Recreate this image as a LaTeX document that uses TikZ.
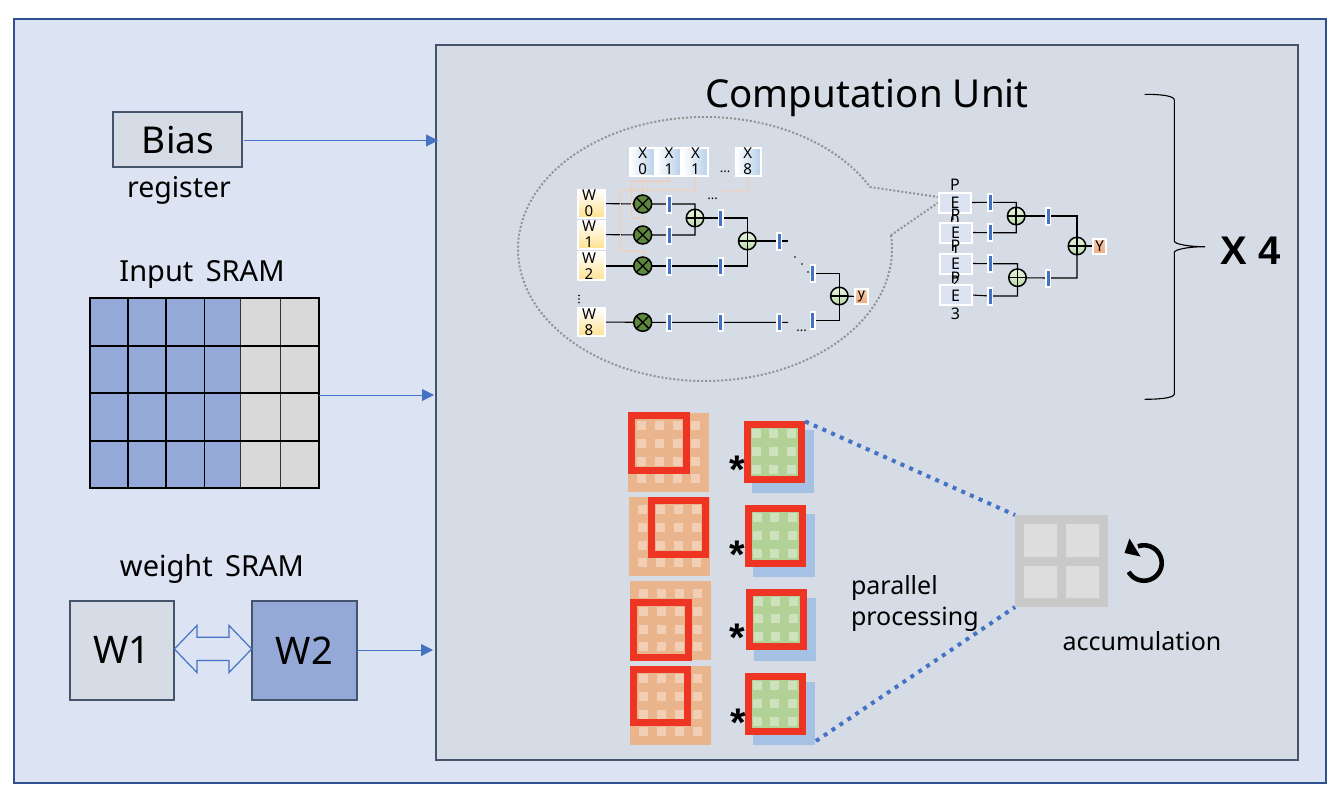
\documentclass[tikz,border=0pt]{standalone}
\usepackage{fontspec}
\setmainfont{Noto Sans}
\newfontfamily\boldarial[BoldFont=Liberation Sans Bold]{Liberation Sans}
\usetikzlibrary{arrows.meta}
\pgfdeclarelayer{back}
\pgfdeclarelayer{wires}
\pgfsetlayers{back,wires,main}
\definecolor{outerfill}{HTML}{DCE3F3}
\definecolor{outerline}{HTML}{2F528F}
\definecolor{panel}{HTML}{D6DCE5}
\definecolor{slate}{HTML}{44546A}
\definecolor{mainblue}{HTML}{4472C4}
\definecolor{cellblue}{HTML}{94A9D8}
\definecolor{cellgray}{HTML}{D9D9D9}
\definecolor{wireorange}{HTML}{F8CBAD}
\definecolor{tileorange}{HTML}{EAB48C}
\definecolor{tilelight}{HTML}{F2CEB4}
\definecolor{tilegreen}{HTML}{B2D197}
\definecolor{greenlight}{HTML}{CEE2BD}
\definecolor{tileblue}{HTML}{A5C2E4}
\definecolor{framered}{HTML}{EE3524}
\newcommand{\fsz}[2]{\fontsize{#1}{#2}\selectfont}
\tikzset{
  x=1pt,y=-1pt,
  txt/.style={inner sep=0pt,outer sep=0pt,text=black},
  flow/.style={draw=mainblue,line width=1pt,-{Triangle[length=12pt,width=12pt]}},
  wire/.style={draw=black,line width=1.1pt},
  feed/.style={draw=wireorange,line width=1pt},
  regbox/.style={draw=none,fill=white,minimum width=6pt,minimum height=19pt,inner sep=0pt,outer sep=0pt,
    path picture={\fill[mainblue] ([xshift=-1.5pt]path picture bounding box.south) rectangle ([xshift=1.5pt]path picture bounding box.north);\fill[white] (path picture bounding box.south west) rectangle ([yshift=2pt]path picture bounding box.south east);\fill[white] (path picture bounding box.north west) rectangle ([yshift=-2pt]path picture bounding box.north east);}},
  mult/.style={circle,draw=black,line width=1.5pt,fill={rgb,255:red,92;green,135;blue,60},minimum size=18pt,inner sep=0pt,outer sep=0pt,
    path picture={\draw[black,line width=1.3pt] (path picture bounding box.north west) -- (path picture bounding box.south east) (path picture bounding box.north east) -- (path picture bounding box.south west);}},
  addn/.style={circle,draw=black,line width=1.5pt,top color={rgb,255:red,232;green,242;blue,224},bottom color={rgb,255:red,190;green,218;blue,170},minimum size=17.5pt,inner sep=0pt,outer sep=0pt,
    path picture={\draw[black,line width=1.5pt] (path picture bounding box.north) -- (path picture bounding box.south) (path picture bounding box.east) -- (path picture bounding box.west);}},
  xbox/.style={draw=white,line width=2pt,left color=white,right color={rgb,255:red,183;green,208;blue,233},minimum width=25pt,minimum height=28pt,inner sep=0pt,outer sep=0pt},
  wbox/.style={draw=white,line width=2pt,top color=white,bottom color={rgb,255:red,255;green,226;blue,145},minimum width=27pt,minimum height=28pt,inner sep=0pt,outer sep=0pt},
  pebox/.style={draw=white,line width=2pt,fill=outerfill,minimum width=32pt,minimum height=20pt,inner sep=0pt,outer sep=0pt},
  ybox/.style={draw=white,line width=2pt,top color={rgb,255:red,248;green,210;blue,180},bottom color={rgb,255:red,238;green,170;blue,125},minimum width=13pt,minimum height=15pt,inner sep=0pt,outer sep=0pt},
  stack/.style={txt,align=center,font=\fsz{15}{16}},
  pestack/.style={txt,align=center,font=\fsz{16}{18}},
  redframe/.style={draw=framered,line width=7pt,minimum size=54.5pt,inner sep=0pt,outer sep=3.5pt},
  dotlink/.style={draw=mainblue,line width=4pt,dash pattern=on 4pt off 5.5pt},
  star/.style={txt,font=\boldarial\bfseries\fsz{40}{44}},
}
\newcommand{\orangetile}[3]{% corner x, y, name
  \node[draw=none,fill=tileorange,minimum width=80.5pt,minimum height=79pt,inner sep=0pt,anchor=north west] (#3) at (#1,#2) {};
  \foreach \i in {13.3,31.3,49.3,67.3}\foreach \j in {12.7,30.3,48,65.3}
    \fill[tilelight] (#1+\i-4.5,#2+\j-4.5) rectangle +(9,9);
}
\newcommand{\greentile}[3]{% corner x, y, name
  \node[fill=tileblue,minimum width=62pt,minimum height=63pt,inner sep=0pt,anchor=north west] (#3b) at (#1+8.3,#2+8.5) {};
  \fill[tilegreen] (#1,#2) rectangle +(61.3,61);
  \foreach \i in {12.6,30,47.6}\foreach \j in {12,29.6,47.6}
    \fill[greenlight] (#1+\i-4.5,#2+\j-4.5) rectangle +(9,9);
  \node[redframe,anchor=center] (#3) at (#1+30.7,#2+30.5) {};
}
\begin{document}
\begin{tikzpicture}
\useasboundingbox (0,0) rectangle (1344,806);
\begin{pgfonlayer}{back}
  \fill[white] (0,0) rectangle (1344,806);
  \draw[draw=outerline,fill=outerfill,line width=2pt] (14,19) rectangle (1326,783);
  \draw[draw=slate,fill=panel,line width=2pt] (436,45) rectangle (1298,760);
  % callout
  \draw[draw=gray!85,line width=2pt,dash pattern=on 2pt off 2pt]
    plot[domain=-6:332,samples=160,smooth] ({705+187*cos(\x)},{249+132*sin(\x)}) -- (945,198) -- cycle;
\end{pgfonlayer}

% left side
\node[draw=slate,fill=panel,line width=2pt,minimum width=129pt,minimum height=55pt,inner sep=0pt,outer sep=0pt] (bias) at (177.3,139.5) {};
\node[txt,font=\fsz{37}{40}] (biast) at (178,140) {Bias};
\node[txt,font=\fsz{28.5}{32}] (regt) at (179,190) {register};
\node[txt,font=\fsz{29}{34}] (inpt) at (202,274) {Input\, SRAM};
\coordinate (bias in) at (438,140.5);
\coordinate (sram in) at (434,395);
\coordinate (wt in) at (433,650);
\node[minimum width=229pt,minimum height=190pt,inner sep=0pt,outer sep=0pt,anchor=north west] (sram) at (90,298) {};
\fill[cellblue] (90,298) rectangle (240.3,488);
\fill[cellgray] (240.3,298) rectangle (319,488);
\draw[black,line width=1.6pt] (128,298) -- (128,488) (166,298) -- (166,488) (204.3,298) -- (204.3,488);
\draw[black!80,line width=1pt] (240.3,298) -- (240.3,488) (280.3,298) -- (280.3,488);
\draw[black,line width=1.6pt] (90,345.7) -- (319,345.7) (90,392.7) -- (319,392.7) (90,440.7) -- (319,440.7);
\draw[black,line width=2pt] (90,298) rectangle (319,488);
\draw[flow] (244,140.5) -- (bias in);
\draw[flow] (sram.east |- sram in) -- (sram in);
\node[txt,font=\fsz{29}{34}] (wgt) at (212,569) {weight\, SRAM};
\node[draw=slate,fill=panel,line width=2pt,minimum width=104.6pt,minimum height=99.3pt,inner sep=0pt,outer sep=0pt,anchor=north west,font=\fsz{38}{42}] (w1) at (69.7,600.7) {W1};
\node[draw=slate,fill=cellblue,line width=2pt,minimum width=105.3pt,minimum height=99.3pt,inner sep=0pt,outer sep=0pt,anchor=north west,font=\fsz{38}{42}] (w2) at (251.7,600.7) {W2};
\draw[draw=mainblue,fill=outerfill,line width=1.2pt,line join=miter]
  (w1.east |- 0,649) -- (197,625.5) -- (197,637.3) -- (229,637.3) -- (229,625.5) -- (w2.west |- 0,649) -- (229,672.5) -- (229,660.5) -- (197,660.5) -- (197,672.5) -- cycle;
\draw[flow] (w2.east |- wt in) -- (wt in);

% title
\node[txt,font=\fsz{38.5}{46}] (title) at (867,98) {Computation Unit};

% detail circuit nodes
\foreach \n/\cx/\d in {xa/642.5/0,xb/668.5/1,xc/695.5/1,xd/748/8}
  \node[xbox] (\n) at (\cx,161.5) {};
\node[stack] (xat) at (642.7,161) {X\\0};
\node[stack] (xbt) at (669,161) {X\\1};
\node[stack] (xct) at (695.5,161) {X\\1};
\node[stack] (xdt) at (747.7,161) {X\\8};
\node[wbox] (wa) at (591.5,203.5) {};
\node[wbox] (wb) at (591.5,234.5) {};
\node[wbox] (wc) at (591.5,266) {};
\node[wbox] (wd) at (591.5,322) {};
\node[stack] (wat) at (589,203.5) {W\\0};
\node[stack] (wbt) at (589,234.5) {W\\1};
\node[stack] (wct) at (589,266) {W\\2};
\node[stack] (wdt) at (589,322) {W\\8};
\node[mult] (ma) at (642.7,204) {};
\node[mult] (mb) at (642.7,235) {};
\node[mult] (mc) at (642.7,266) {};
\node[mult] (md) at (642.7,322.3) {};
\node[regbox] (ra) at (669,204) {};
\node[regbox] (rb) at (669,235) {};
\node[regbox] (rc) at (669,266) {};
\node[regbox] (rd) at (669,322.3) {};
\node[regbox] (re) at (720.7,218) {};
\node[regbox] (rf) at (720.7,266) {};
\node[regbox] (rg) at (720.7,322.3) {};
\node[regbox] (rh) at (779,241) {};
\node[regbox] (ri) at (779,322.3) {};
\node[regbox] (rj) at (812.7,273.3) {};
\node[regbox] (rk) at (812.7,320.7) {};
\node[addn] (aa) at (695,218) {};
\node[addn] (ab) at (747.3,241) {};
\node[addn] (ac) at (839.3,296) {};
\node[ybox] (yo) at (861.5,296.5) {};
\node[txt,font=\fsz{14}{16}] (yot) at (861.5,296) {y};
\coordinate (ha) at (788,241);
\coordinate (hb) at (788,322.3);
\coordinate (hc) at (722,190);
\coordinate (fa) at (669.3,181.7);
\coordinate (fb) at (631.7,181.7);
\coordinate (fc) at (631.7,218.3);
\coordinate (fd) at (644,218.3);
\coordinate (fe) at (695.7,190);
\coordinate (ff) at (620.3,190);
\coordinate (fg) at (620.3,251);
\coordinate (fh) at (644,251);
\begin{pgfonlayer}{wires}
  \draw[wire] (wa.center) -- (ma.center) -- (ra.center) -| (aa.center);
  \draw[wire] (wb.center) -- (mb.center) -- (rb.center) -| (aa.center);
  \draw[wire] (aa.center) -- (re.center) -| (ab.center);
  \draw[wire] (wc.center) -- (mc.center) -- (rc.center) -- (rf.center) -| (ab.center);
  \draw[wire] (ab.center) -- (rh.center) -- (ha);
  \draw[wire] (wd.center) -- (md.center) -- (rd.center) -- (rg.center) -- (ri.center) -- (hb);
  \draw[wire] (rj.center) -| (ac.center);
  \draw[wire] (rk.center) -| (ac.center);
  \draw[wire] (ac.center) -- (yo.center);
  \draw[feed] (xa.center) -- (xa.center |- ma.center);
  \draw[feed] (xb.center) -- (fa) -- (fb) -- (fc) -- (fd) -- (fd |- mb.center);
  \draw[feed] (xc.center) -- (fe) -- (ff) -- (fg) -- (fh) -- (fh |- mc.center);
  \draw[feed] (xd.center) -- (xd.center |- hc) -- (hc);
\end{pgfonlayer}
\node[txt,font=\fsz{13}{15}] (da) at (725,172) {...};
\node[txt,font=\fsz{13}{15}] (db) at (712.7,199) {...};
\node[txt,font=\fsz{13}{15}] (dc) at (801.7,331) {...};
\fill[black] (579,295.5) circle (.8) (579,299) circle (.8) (579,302.5) circle (.8);
\fill[black] (795,257) circle (.9) (802,264) circle (.9) (808,272) circle (.9);

% PE block
\node[pebox] (pa) at (955,202.5) {};
\node[pestack] (pat) at (955,203) {P\\E\\0};
\node[pebox] (pb) at (955.5,232.5) {};
\node[pestack] (pbt) at (955.5,233) {P\\E\\1};
\node[pebox] (pc) at (955.5,263.5) {};
\node[pestack] (pct) at (955.5,264) {P\\E\\2};
\node[pebox] (pd) at (955.5,295) {};
\node[pestack] (pdt) at (955.5,295.5) {P\\E\\3};
\node[regbox] (sa) at (990,202.3) {};
\node[regbox] (sb) at (990,232.7) {};
\node[regbox] (sc) at (990,263.7) {};
\node[regbox] (sd) at (990,296) {};
\node[regbox] (se) at (1048,216) {};
\node[regbox] (sf) at (1048,278) {};
\node[addn] (ba) at (1016.2,216) {};
\node[addn] (bb) at (1017.5,277.7) {};
\node[addn] (bc) at (1077,246) {};
\node[ybox] (yy) at (1099.5,246) {};
\node[txt,font=\fsz{15}{17}] (yyt) at (1099.5,246) {Y};
\begin{pgfonlayer}{wires}
  \draw[wire] (pa.east) -- (sa.center) -| (ba.center);
  \draw[wire] (pb.east) -- (sb.center) -| (ba.center);
  \draw[wire] (pc.east) -- (sc.center) -| (bb.center);
  \draw[wire] (pd.east) -- (sd.center) -| (bb.center);
  \draw[wire] (ba.center) -- (se.center) -| (bc.center);
  \draw[wire] (bb.center) -- (sf.center) -| (bc.center);
  \draw[wire] (bc.center) -- (yy.center);
\end{pgfonlayer}

% brace
\draw[black,line width=1.1pt] (1144.7,94.3) .. controls (1162,94.3) and (1174.3,96) .. (1174.3,100) -- (1174.3,241)
  .. controls (1174.3,244) and (1188,246.7) .. (1205,246.7) .. controls (1188,246.7) and (1174.3,249.5) .. (1174.3,252.5) -- (1174.3,394)
  .. controls (1174.3,397.5) and (1162,399.3) .. (1144.7,399.3);
\node[txt,font=\boldarial\bfseries\fsz{40}{46}] (x4) at (1251,251) {X 4};

% tiles
\orangetile{628}{413}{oa}
\orangetile{629}{497}{ob}
\orangetile{630}{581}{oc}
\orangetile{630}{666}{od}
\node[redframe] (fra) at (659,443) {};
\node[redframe] (frb) at (678.5,527.5) {};
\node[redframe] (frc) at (661,630) {};
\node[redframe,minimum height=53pt] (frd) at (660.5,696) {};
\greentile{743.7}{421.7}{ga}
\greentile{744.7}{505.7}{gb}
\greentile{745.7}{589}{gc}
\greentile{744.7}{673.5}{gd}
\node[star] (sta) at (737.3,470) {*};
\node[star] (stb) at (737.3,555) {*};
\node[star] (stc) at (737.3,638) {*};
\node[star] (std) at (738.3,723) {*};

% accumulation
\node[fill={rgb,255:red,201;green,201;blue,201},minimum width=93pt,minimum height=92pt,inner sep=0pt,outer sep=0pt,anchor=north west] (acc) at (1015,515) {};
\fill[cellgray!90!white] (1024,524) rectangle (1057,557) (1066,524) rectangle (1099,557) (1024,566) rectangle (1057,598) (1066,566) rectangle (1099,598);
\draw[dotlink] (ga.north east) -- (acc.north west);
\coordinate (gd out) at (816,741);
\draw[dotlink] (gd out) -- (acc.south west);
\draw[black,line width=4.6pt] plot[domain=-110:150,samples=50,smooth] ({1144+17.7*cos(\x)},{563+17.7*sin(\x)});
\fill[black] (1129.5,538.5) -- (1124.5,553) -- (1140.5,556.5) -- cycle;
\node[txt,font=\fsz{25}{31},align=left,anchor=west] (par) at (851,603.5) {parallel\\processing};
\node[txt,font=\fsz{25}{30}] (acct) at (1142,641) {accumulation};
\end{tikzpicture}
\end{document}
